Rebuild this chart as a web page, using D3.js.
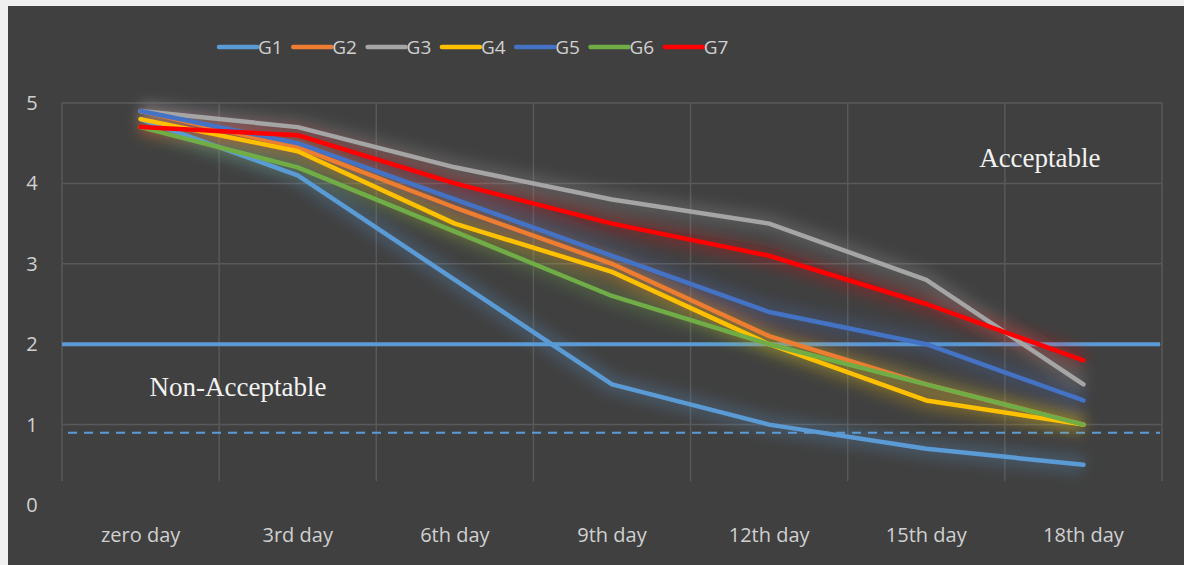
<!DOCTYPE html>
<html>
<head>
<meta charset="utf-8">
<script src="https://cdn.jsdelivr.net/npm/d3@7"></script>
<style>
  body { margin: 0; background: #f0f0f0; }
  svg { display: block; }
  .tick text { font-family: "Open Sans", sans-serif; fill: #d0d0d0; }
</style>
</head>
<body>
<div id="chart"></div>
<script>
var days = ["zero day", "3rd day", "6th day", "9th day", "12th day", "15th day", "18th day"];
var yTicks = [0, 1, 2, 3, 4, 5];

var g1 = [4.8, 4.1, 2.8, 1.5, 1.0, 0.7, 0.5];
var g2 = [4.9, 4.45, 3.7, 3.0, 2.1, 1.5, 1.0];
var g3 = [4.9, 4.7, 4.2, 3.8, 3.5, 2.8, 1.5];
var g4 = [4.8, 4.4, 3.5, 2.9, 2.0, 1.3, 1.0];
var g5 = [4.9, 4.5, 3.8, 3.1, 2.4, 2.0, 1.3];
var g6 = [4.7, 4.2, 3.4, 2.6, 2.0, 1.5, 1.0];
var g7 = [4.7, 4.6, 4.0, 3.5, 3.1, 2.5, 1.8];

var seriesNames = ["G1", "G2", "G3", "G4", "G5", "G6", "G7"];
var seriesColors = ["#5b9bd5", "#ed7d31", "#a5a5a5", "#ffc000", "#4472c4", "#70ad47", "#ff0000"];
var limitLine = 2;     // acceptable limit
var dashedLine = 0.9;  // lower dashed reference

var series = [g1, g2, g3, g4, g5, g6, g7].map(function(v, i) {
  return { name: seriesNames[i], color: seriesColors[i], values: v };
});

var width = 1184,
  height = 565,
  margin = { top: 103, right: 22, bottom: 62, left: 62 },
  innerWidth = width - margin.left - margin.right,
  innerHeight = height - margin.top - margin.bottom;

var svg = d3.select("#chart").append("svg")
  .attr("width", width)
  .attr("height", height);

// glow filter for the lines
var defs = svg.append("defs");
var f = defs.append("filter").attr("id", "glow")
  .attr("x", "-20%").attr("y", "-20%").attr("width", "140%").attr("height", "140%");
f.append("feGaussianBlur").attr("stdDeviation", 7);

// dark chart background
svg.append("rect")
  .attr("x", 8).attr("y", 6)
  .attr("width", width - 8).attr("height", height - 6)
  .attr("fill", "#404040");

var g = svg.append("g")
  .attr("transform", "translate(" + margin.left + "," + margin.top + ")");

var x = d3.scaleBand().domain(days).range([0, innerWidth]);
var y = d3.scaleLinear().domain([0, 5]).range([innerHeight + 2, 0]);

// gridlines
g.append("g").selectAll("line.h")
  .data(yTicks.filter(function(d) { return d > 0; }))
  .enter().append("line")
  .attr("x1", 0).attr("x2", innerWidth)
  .attr("y1", y).attr("y2", y)
  .attr("stroke", "#5a5a5a").attr("stroke-width", 1.5);

var vLines = days.map(function(d) { return x(d); }).concat([innerWidth]);
g.append("g").selectAll("line.v")
  .data(vLines)
  .enter().append("line")
  .attr("x1", function(d) { return d; }).attr("x2", function(d) { return d; })
  .attr("y1", 0).attr("y2", y(0.3))
  .attr("stroke", "#585858").attr("stroke-width", 1.5);

// axes
var yAxis = g.append("g")
  .call(d3.axisLeft(y).tickValues(yTicks).tickFormat(d3.format("d")).tickSize(0).tickPadding(24));
yAxis.select(".domain").remove();
yAxis.selectAll("text").attr("font-size", 20).attr("text-anchor", "middle").attr("dx", -6);

var xAxis = g.append("g")
  .attr("transform", "translate(0," + (innerHeight + 2) + ")")
  .call(d3.axisBottom(x).tickSize(0).tickPadding(23));
xAxis.select(".domain").remove();
xAxis.selectAll("text").attr("font-size", 20);

// reference lines
g.append("line")
  .attr("x1", 0).attr("x2", innerWidth - 2)
  .attr("y1", y(limitLine)).attr("y2", y(limitLine))
  .attr("stroke", "#5b9bd5").attr("stroke-width", 4);

g.append("line")
  .attr("x1", 6).attr("x2", innerWidth - 2)
  .attr("y1", y(dashedLine)).attr("y2", y(dashedLine))
  .attr("stroke", "#5b9bd5").attr("stroke-width", 2)
  .attr("stroke-dasharray", "9,7");

var line = d3.line()
  .x(function(d, i) { return x(days[i]) + x.bandwidth() / 2; })
  .y(function(d) { return y(d); });

// glow underlay
g.append("g").attr("filter", "url(#glow)").selectAll("path")
  .data(series)
  .enter().append("path")
  .attr("d", function(d) { return line(d.values); })
  .attr("fill", "none")
  .attr("stroke", function(d) { return d.color; })
  .attr("stroke-width", 18)
  .attr("stroke-opacity", 0.25)
  .attr("stroke-linejoin", "round");

g.append("g").selectAll("path")
  .data(series)
  .enter().append("path")
  .attr("d", function(d) { return line(d.values); })
  .attr("fill", "none")
  .attr("stroke", function(d) { return d.color; })
  .attr("stroke-width", 4.5)
  .attr("stroke-linejoin", "round")
  .attr("stroke-linecap", "round");

// annotations
g.append("text")
  .attr("x", x("18th day") + 35).attr("y", 64)
  .attr("text-anchor", "middle")
  .attr("font-family", "Liberation Serif, serif")
  .attr("font-size", 27)
  .attr("fill", "#f2f2f2")
  .text("Acceptable");

g.append("text")
  .attr("x", 176).attr("y", 293)
  .attr("text-anchor", "middle")
  .attr("font-family", "Liberation Serif, serif")
  .attr("font-size", 27)
  .attr("fill", "#f2f2f2")
  .text("Non-Acceptable");

// legend
var legend = svg.append("g").attr("transform", "translate(219,47)");
var item = legend.selectAll("g")
  .data(series)
  .enter().append("g")
  .attr("transform", function(d, i) { return "translate(" + i * 74.3 + ",0)"; });
item.append("line")
  .attr("x1", 0).attr("x2", 38)
  .attr("stroke", function(d) { return d.color; })
  .attr("stroke-width", 4.5)
  .attr("stroke-linecap", "round");
item.append("text")
  .attr("x", 39).attr("y", 7)
  .attr("font-family", "Open Sans, sans-serif")
  .attr("font-size", 19)
  .attr("fill", "#d0d0d0")
  .text(function(d) { return d.name; });
</script>
</body>
</html>
